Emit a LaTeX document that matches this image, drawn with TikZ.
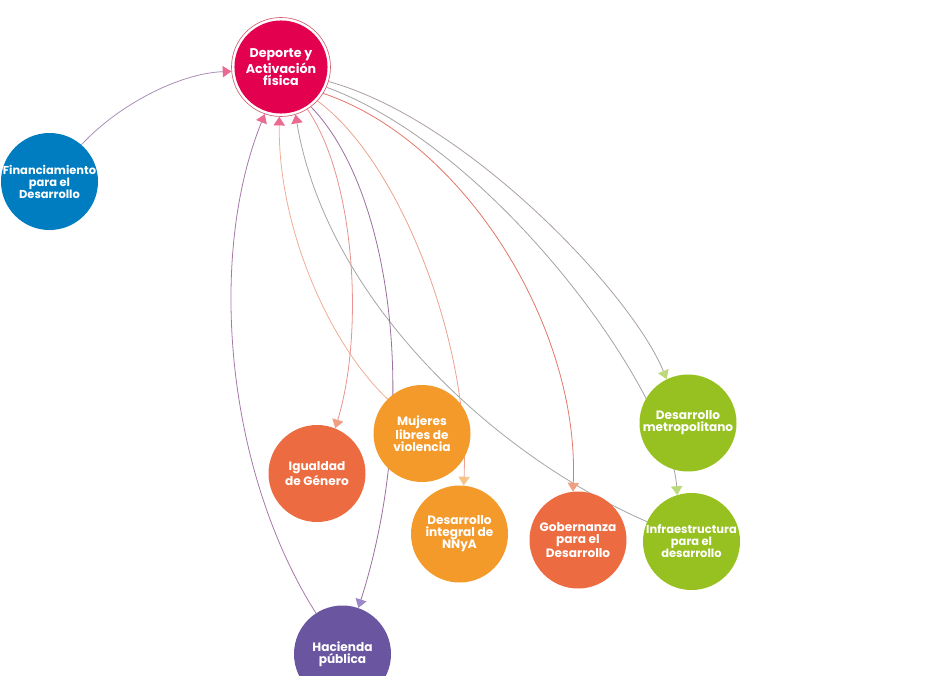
\documentclass[tikz,border=0pt]{standalone}
\usepackage{fontspec}
\setmainfont{Poppins}
\usetikzlibrary{arrows.meta}
\pgfdeclarelayer{bg}
\pgfsetlayers{bg,main}
\definecolor{cD}{HTML}{E3004F}
\definecolor{cRing}{HTML}{D4606E}
\definecolor{cF}{HTML}{007DC1}
\definecolor{cRed}{HTML}{EC6B41}
\definecolor{cOr}{HTML}{F39A2B}
\definecolor{cGr}{HTML}{96C121}
\definecolor{cH}{HTML}{6A56A0}
\definecolor{aPink}{HTML}{EA6A92}
\definecolor{aSalmon}{HTML}{F0A080}
\definecolor{aOr}{HTML}{F5C486}
\definecolor{aGr}{HTML}{BCD97A}
\definecolor{aPur}{HTML}{9A88C8}
\definecolor{lFD}{HTML}{A98FB8}
\definecolor{lHD}{HTML}{A678A8}
\definecolor{lMD}{HTML}{F0AC96}
\definecolor{lID}{HTML}{A2A6A4}
\definecolor{lDIG}{HTML}{E8928E}
\definecolor{lDH}{HTML}{9A6E9E}
\definecolor{lDN}{HTML}{ECA290}
\definecolor{lDG}{HTML}{E2766A}
\definecolor{lDI}{HTML}{A8A0A2}
\definecolor{lDDM}{HTML}{AA9EA4}
\tikzset{
  topic/.style={circle, minimum size=72.75pt, inner sep=-8pt, text=white,
    font=\bfseries\fontsize{9.1}{9}\selectfont, align=center},
  narrowtext/.style={font=\bfseries\fontsize{8.6}{9}\selectfont},
  link/.style={line width=0.6pt},
  tip/.style={-{Triangle[width=8.5pt,length=6.5pt,color=#1]}}
}
\begin{document}
\begin{tikzpicture}[x=0.75pt,y=-0.75pt]
\useasboundingbox (0,0) rectangle (932,675);
% nodes
\node[topic, minimum size=74.25pt, draw=cRing, line width=0.5pt, fill=white,
  font=\bfseries\fontsize{9.5}{9}\selectfont,
  path picture={\fill[cD] (path picture bounding box.center) circle[radius=34.9pt];}]
  (D) at (281,67) {Deporte y\\Activación\\física};
\node[topic, narrowtext, fill=cF] (F) at (49.5,181.5) {Financiamiento\\para el\\Desarrollo};
\node[topic, fill=cRed] (IG) at (317,473.5) {Igualdad\\de Género};
\node[topic, fill=cOr] (M) at (422,433.5) {Mujeres\\libres de\\violencia};
\node[topic, fill=cOr] (N) at (459.5,534) {Desarrollo\\integral de\\NNyA};
\node[topic, fill=cRed] (G) at (578,540) {Gobernanza\\para el\\Desarrollo};
\node[topic, fill=cGr] (DM) at (688,423) {Desarrollo\\metropolitano};
\node[topic, narrowtext, fill=cGr] (I) at (691.5,541.5) {Infraestructura\\para el\\desarrollo};
\node[topic, fill=cH] (H) at (342.5,654) {Hacienda\\pública};
% connectors
\begin{pgfonlayer}{bg}
\draw[link, lFD, tip=aPink] (F.49) .. controls +(37,-40) and +(-52,2) .. (D.185);
\draw[link, lHD, tip=aPink] (H.123) .. controls +(-90,-142) and +(-58,143) .. (D.251);
\draw[link, lMD, tip=aPink] (M.135) .. controls +(-58,-55) and +(-1,112) .. (D.268);
\draw[link, lID, tip=aPink] (I.156) .. controls +(-160,-70) and +(30,180) .. (D.287);
\draw[link, lDIG, tip=aSalmon] (D.302) .. controls +(48,70) and +(29,-96) .. (IG.68);
\draw[link, lDH, tip=aPur] (D.307) .. controls +(82,85) and +(62,-195) .. (H.71);
\draw[link, lDN, tip=aOr] (D.317) .. controls +(80,58) and +(6,-146) .. (N.85);
\draw[link, lDG, tip=aSalmon] (D.328) .. controls +(140,47) and +(7,-165) .. (G.96);
\draw[link, lDI, tip=aGr] (D.336) .. controls +(170,62) and +(-7,-103) .. (I.107);
\draw[link, lDDM, tip=aGr] (D.343) .. controls +(138,38) and +(-35,-86) .. (DM.116);
\end{pgfonlayer}
\end{tikzpicture}
\end{document}
